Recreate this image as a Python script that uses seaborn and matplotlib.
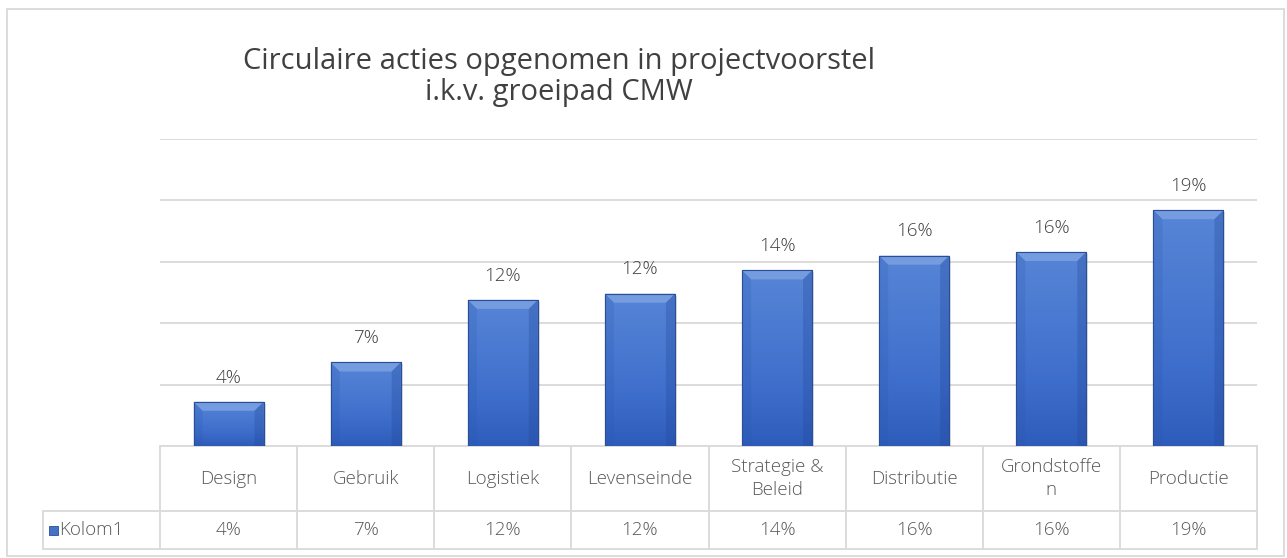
import numpy as np
import matplotlib
matplotlib.use("Agg")
import matplotlib.pyplot as plt
import matplotlib.transforms as mtransforms
from matplotlib.patches import Rectangle, Polygon
from matplotlib.colors import LinearSegmentedColormap
import seaborn as sns

# ---------------------------------------------------------------------------
# data
# ---------------------------------------------------------------------------
categories = ["Design", "Gebruik", "Logistiek", "Levenseinde",
              "Strategie & Beleid", "Distributie", "Grondstoffen", "Productie"]
header_labels = ["Design", "Gebruik", "Logistiek", "Levenseinde",
                 "Strategie &\nBeleid", "Distributie", "Grondstoffe\nn", "Productie"]
values = [0.036, 0.068, 0.119, 0.124, 0.143, 0.155, 0.158, 0.192]
value_labels = ["4%", "7%", "12%", "12%", "14%", "16%", "16%", "19%"]
series_name = "Kolom1"
title_text = "Circulaire acties opgenomen in projectvoorstel\ni.k.v. groeipad CMW"

# ---------------------------------------------------------------------------
# style
# ---------------------------------------------------------------------------
sns.set_theme(style="white")
plt.rcParams["font.family"] = ["Open Sans", "DejaVu Sans"]
plt.rcParams["font.weight"] = "light"

W, H = 1287, 558
fig = plt.figure(figsize=(W / 100, H / 100), dpi=100)
ax_left, ax_right, ax_top, ax_bottom = 160, 1257, 139, 446
ax = fig.add_axes([ax_left / W, 1 - ax_bottom / H,
                   (ax_right - ax_left) / W, (ax_bottom - ax_top) / H])

grid_col = "#D9D9D9"
text_col = "#595959"
fs = 13.5

sns.barplot(x=categories, y=values, ax=ax, color="#4472C4", width=0.51,
            saturation=1, zorder=3)

ax.set_xlim(-0.5, len(categories) - 0.5)
ax.set_ylim(0, 0.25)
ax.set_yticks(np.arange(0.05, 0.251, 0.05))
ax.yaxis.grid(True, color=grid_col, lw=1.3, zorder=0)
ax.set_yticklabels([])
ax.set_xticks([])
ax.tick_params(length=0)
ax.set_xlabel("")
ax.set_ylabel("")
for s in ax.spines.values():
    s.set_visible(False)

# gradient / bevel look on bars
grad = np.linspace(0, 1, 256).reshape(-1, 1)
cmap = LinearSegmentedColormap.from_list("bar", ["#2E5CBA", "#3E6ECB", "#4A7AD1", "#5785D6"])
px_y = 0.25 / (ax_bottom - ax_top)
px_x = 1.0 / ((ax_right - ax_left) / len(categories))
for p in list(ax.patches):
    x0, y0, w, h = p.get_x(), p.get_y(), p.get_width(), p.get_height()
    p.set_edgecolor("#2B4F96")
    p.set_linewidth(0.8)
    # soft shadow
    ax.add_patch(Rectangle((x0 + 2 * px_x, y0), w, h - 2 * px_y, color="black",
                           alpha=0.10, lw=0, zorder=2))
    im = ax.imshow(grad, cmap=cmap, extent=[x0, x0 + w, y0, y0 + h], origin="lower",
                   aspect="auto", zorder=3.1, interpolation="bicubic")
    im.set_clip_path(p)
    top = y0 + h
    dx, dy = 9 * px_x, 9 * px_y
    ax.add_patch(Polygon([(x0, top), (x0 + w, top), (x0 + w - dx, top - dy), (x0 + dx, top - dy)],
                         closed=True, color="#7FA3E4", alpha=0.8, lw=0, zorder=3.2))
    ax.add_patch(Polygon([(x0, top), (x0 + dx, top - dy), (x0 + dx, y0), (x0, y0)],
                         closed=True, color="#2A56AD", alpha=0.2, lw=0, zorder=3.2))
    ax.add_patch(Polygon([(x0 + w, top), (x0 + w - dx, top - dy), (x0 + w - dx, y0), (x0 + w, y0)],
                         closed=True, color="#22479A", alpha=0.3, lw=0, zorder=3.2))
    ax.add_patch(Rectangle((x0, y0), w, h, fill=False, ec="#2B4F96", lw=0.8, zorder=3.3))

ax.set_xlim(-0.5, len(categories) - 0.5)
ax.set_ylim(0, 0.25)

# data labels
for i, (v, lab) in enumerate(zip(values, value_labels)):
    ax.annotate(lab, (i, v), xytext=(0, 11), textcoords="offset points",
                ha="center", va="bottom", fontsize=fs, color="#404040", zorder=5)

# ---------------------------------------------------------------------------
# data table under the chart
# ---------------------------------------------------------------------------
tr = mtransforms.blended_transform_factory(ax.transData, ax.transAxes)
row1 = -(511 - ax_bottom) / (ax_bottom - ax_top)
row2 = -(549 - ax_bottom) / (ax_bottom - ax_top)
col_w = (ax_right - ax_left) / len(categories)
leg_x = -0.5 - (ax_left - 43) / col_w
n = len(categories)

line_kw = dict(color=grid_col, lw=1.3, transform=tr, clip_on=False, zorder=1)
ax.plot([-0.5, n - 0.5], [0, 0], **line_kw)
ax.plot([leg_x, n - 0.5], [row1, row1], **line_kw)
ax.plot([leg_x, n - 0.5], [row2, row2], **line_kw)
for k in range(n + 1):
    ax.plot([k - 0.5, k - 0.5], [0, row2], **line_kw)
ax.plot([leg_x, leg_x], [row1, row2], **line_kw)

for i, lab in enumerate(header_labels):
    ax.text(i, row1 / 2, lab, transform=tr, ha="center", va="center",
            multialignment="center", fontsize=fs, color=text_col, linespacing=1.35)
for i, lab in enumerate(value_labels):
    ax.text(i, (row1 + row2) / 2, lab, transform=tr, ha="center", va="center",
            fontsize=fs, color=text_col)

# legend key in the table
key_y = (row1 + row2) / 2
ax.add_patch(Rectangle((leg_x + 6 / col_w, key_y - 0.016), 9 / col_w, 0.029,
                       transform=tr, clip_on=False, fc="#4472C4", ec="#2B4F96", lw=0.6))
ax.text(leg_x + 16 / col_w, key_y, series_name, transform=tr, ha="left", va="center",
        fontsize=fs, color=text_col)

# ---------------------------------------------------------------------------
# title and outer frame
# ---------------------------------------------------------------------------
fig.text(559 / W, 1 - 77 / H, title_text, ha="center", va="center",
         fontsize=21, fontweight="normal", color="#404040", linespacing=1.12)

fig.patches.append(Rectangle((7 / W, 2 / H), (1284 - 7) / W, (556 - 9) / H,
                             transform=fig.transFigure, fill=False, ec=grid_col, lw=1.3))

fig.savefig("out.png", dpi=100)
